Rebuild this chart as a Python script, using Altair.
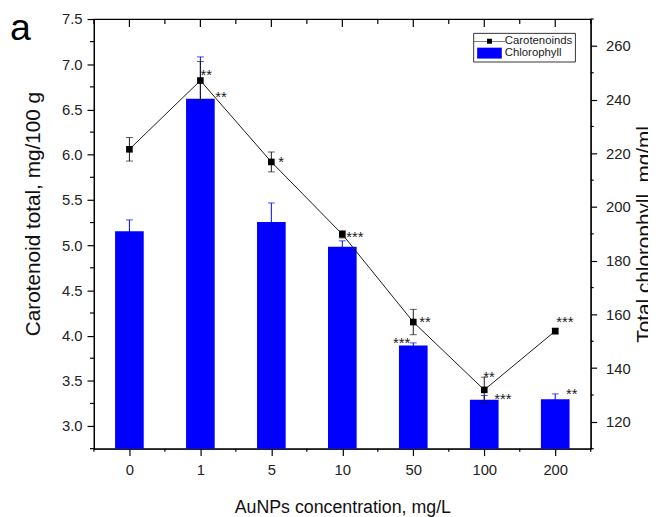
import altair as alt
import pandas as pd

# ---------------- data ----------------
categories = ["0", "1", "5", "10", "50", "100", "200"]
carotenoids = [6.06, 6.82, 5.92, 5.12, 4.15, 3.40, 4.05]
carotenoids_err = [0.13, 0.21, 0.11, 0.04, 0.14, 0.14, 0.03]
chlorophyll = [191.0, 240.3, 194.4, 185.2, 148.4, 128.2, 128.4]
chlorophyll_err = [4.2, 15.6, 7.1, 2.2, 1.0, 1.6, 2.0]
series_names = ["Carotenoinds", "Chlorophyll"]

# significance labels (category, text)
car_sig = [("1", "**"), ("5", "*"), ("10", "***"), ("50", "**"), ("100", "**"), ("200", "***")]
chl_sig = [("1", "**"), ("50", "***"), ("100", "***"), ("200", "**")]

left_domain = [2.75, 7.5]
right_domain = [110, 270]
left_major = [3.0, 3.5, 4.0, 4.5, 5.0, 5.5, 6.0, 6.5, 7.0, 7.5]
left_minor = [2.75, 3.25, 3.75, 4.25, 4.75, 5.25, 5.75, 6.25, 6.75, 7.25]
right_major = [120, 140, 160, 180, 200, 220, 240, 260]
right_minor = [110, 130, 150, 170, 190, 210, 230, 250, 270]
panel_letter = "a"

# label placement style: dx, dy, align
car_sig_style = {"1": (0, -1, "left"), "5": (7, 5, "left"), "10": (4, 8, "left"),
                 "50": (6, 5, "left"), "100": (-1, -8, "left"), "200": (1, -4, "left")}
chl_sig_style = {"1": (15, 3, "left"), "50": (-3, 2, "right"),
                 "100": (10, 4, "left"), "200": (11, 0, "left")}

FONT = "Liberation Sans"
TXT = "#1a1a1a"
W, H = 503, 435
n = len(categories)
df = pd.DataFrame({
    "idx": list(range(n)),
    "cat": categories,
    "car": carotenoids,
    "car_err": carotenoids_err,
    "chl": chlorophyll,
    "chl_err": chlorophyll_err,
})
df["car_lo"] = df["car"] - df["car_err"]
df["car_hi"] = df["car"] + df["car_err"]
df["chl_lo"] = df["chl"] - df["chl_err"]
df["chl_hi"] = df["chl"] + df["chl_err"]
df["chl_base"] = right_domain[0]

x_major = list(range(n))
x_minor = [i - 0.5 for i in range(n + 1)]
label_js = "[" + ",".join("'" + c + "'" for c in categories) + "]"
xs = alt.Scale(domain=[-0.5, n - 0.5], nice=False, zero=False, padding=0)
ys_left = alt.Scale(domain=left_domain, nice=False, zero=False, padding=0)
ys_right = alt.Scale(domain=right_domain, nice=False, zero=False, padding=0)

bottom_axis = alt.Axis(
    orient="bottom", values=x_major,
    labelExpr=label_js + "[datum.value]",
    tickSize=7, labelPadding=7,
    title="AuNPs concentration, mg/L", titlePadding=22, titleFontSize=18,
)
left_axis = alt.Axis(
    orient="left", values=left_major, format=".1f",
    tickSize=7, labelPadding=5,
    title="Carotenoid total, mg/100 g", titlePadding=18, titleFontSize=21, titleY=197,
)
right_axis = alt.Axis(
    orient="right", values=right_major,
    tickSize=6, labelPadding=9,
    title="Total chlorophyll, mg/ml", titlePadding=4, titleFontSize=21,
    titleAngle=270, titleBaseline="top",
)

base = alt.Chart(df)


def X(field="idx", axis=None):
    if axis is None:
        return alt.X(field + ":Q", scale=xs)
    return alt.X(field + ":Q", scale=xs, axis=axis)


def YL(field, axis=None):
    if axis is None:
        return alt.Y(field + ":Q", scale=ys_left)
    return alt.Y(field + ":Q", scale=ys_left, axis=axis)


def YR(field, axis=None):
    if axis is None:
        return alt.Y(field + ":Q", scale=ys_right)
    return alt.Y(field + ":Q", scale=ys_right, axis=axis)


TICK = "#000000"

# ---- chlorophyll (right axis) ----
bars = base.mark_bar(color="#0000ff", size=29).encode(
    x=X(axis=bottom_axis), y=YR("chl", right_axis), y2="chl_base:Q")
chl_rule = base.mark_rule(color="#0000ff", strokeWidth=1).encode(
    x=X(), y=YR("chl_lo"), y2="chl_hi:Q")
chl_cap = base.mark_tick(color="#0000ff", orient="horizontal", size=7, thickness=1).encode(
    x=X(), y=YR("chl_hi"))
right_minor_ticks = alt.Chart(pd.DataFrame({"v": right_minor})).mark_rule(
    color=TICK, strokeWidth=1.2).encode(
    y=YR("v"), x=alt.value(W), x2=alt.value(W + 3))

chl_layers = [bars, chl_rule, chl_cap, right_minor_ticks]
for cat, txt in chl_sig:
    dx, dy, al = chl_sig_style[cat]
    i = categories.index(cat)
    d = pd.DataFrame({"idx": [i], "chl": [chlorophyll[i]], "t": [txt]})
    chl_layers.append(
        alt.Chart(d).mark_text(font=FONT, fontSize=15, fill=TXT, dx=dx, dy=dy,
                               align=al, baseline="alphabetic").encode(
            x=X(), y=YR("chl"), text="t:N"))
chl_layer = alt.layer(*chl_layers)

# ---- carotenoids (left axis) ----
line = base.mark_line(color=TXT, strokeWidth=1).encode(
    x=X(), y=YL("car", left_axis))
car_rule = base.mark_rule(color=TXT, strokeWidth=1).encode(
    x=X(), y=YL("car_lo"), y2="car_hi:Q")
car_cap_hi = base.mark_tick(color=TXT, orient="horizontal", size=7, thickness=1).encode(
    x=X(), y=YL("car_hi"))
car_cap_lo = base.mark_tick(color=TXT, orient="horizontal", size=7, thickness=1).encode(
    x=X(), y=YL("car_lo"))
points = base.mark_point(shape="square", filled=True, size=45, color="#000000", opacity=1).encode(
    x=X(), y=YL("car"))
left_minor_ticks = alt.Chart(pd.DataFrame({"v": left_minor})).mark_rule(
    color=TICK, strokeWidth=1.2).encode(
    y=YL("v"), x=alt.value(-4), x2=alt.value(0))

# x minor ticks (bottom, outward) and top ticks (inward)
bottom_minor_ticks = alt.Chart(pd.DataFrame({"idx": x_minor})).mark_rule(
    color=TICK, strokeWidth=1.2).encode(
    x=X(), y=alt.value(H), y2=alt.value(H + 3))
top_major_ticks = alt.Chart(pd.DataFrame({"idx": x_major})).mark_rule(
    color=TICK, strokeWidth=1.2).encode(
    x=X(), y=alt.value(0), y2=alt.value(8))
top_minor_ticks = alt.Chart(pd.DataFrame({"idx": x_minor})).mark_rule(
    color=TICK, strokeWidth=1.2).encode(
    x=X(), y=alt.value(0), y2=alt.value(5))

car_layers = [line, car_rule, car_cap_hi, car_cap_lo, points,
              left_minor_ticks, bottom_minor_ticks, top_major_ticks, top_minor_ticks]
for cat, txt in car_sig:
    dx, dy, al = car_sig_style[cat]
    i = categories.index(cat)
    d = pd.DataFrame({"idx": [i], "car": [carotenoids[i]], "t": [txt]})
    car_layers.append(
        alt.Chart(d).mark_text(font=FONT, fontSize=15, fill=TXT, dx=dx, dy=dy,
                               align=al, baseline="alphabetic").encode(
            x=X(), y=YL("car"), text="t:N"))

# panel letter
letter = alt.Chart(pd.DataFrame({"t": [panel_letter]})).mark_text(
    font=FONT, fontSize=38, color="#000000", align="left", baseline="alphabetic").encode(
    x=alt.value(-85), y=alt.value(21), text="t:N")
car_layers.append(letter)

# legend (library legend with custom symbols)
line_sym = "M-2.4,-0.05H2.4V0.05H-2.4Z M-0.38,-0.38H0.38V0.38H-0.38Z"
rect_sym = "M-1.92,-0.85H1.92V0.85H-1.92Z"
legend_df = pd.DataFrame({"series": series_names})
legend_layer = alt.Chart(legend_df).mark_point(filled=True, size=0, opacity=1).encode(
    x=alt.value(0), y=alt.value(0),
    color=alt.Color("series:N", scale=alt.Scale(domain=series_names, range=["#000000", "#0000ff"]),
                    legend=alt.Legend(orient="none", legendX=384, legendY=14, title=None,
                                      strokeColor="#333333", fillColor="white", padding=2,
                                      symbolSize=169, symbolOpacity=1, symbolStrokeWidth=0,
                                      symbolOffset=8, labelOffset=9, rowPadding=0,
                                      labelFont=FONT, labelFontSize=11.5, labelColor=TXT)),
    shape=alt.Shape("series:N", scale=alt.Scale(domain=series_names, range=[line_sym, rect_sym]),
                    legend=alt.Legend(orient="none", legendX=384, legendY=14, title=None)),
)
car_layers.append(legend_layer)
car_layer = alt.layer(*car_layers)

chart = alt.layer(chl_layer, car_layer).resolve_scale(y="independent").properties(
    width=W, height=H,
    autosize=alt.AutoSizeParams(type="none"),
    padding={"left": 87, "top": 8, "right": 58, "bottom": 66},
).configure_view(stroke="#000000", strokeWidth=1.2).configure_axis(
    labelFont=FONT, labelFontSize=15, labelColor="#222222",
    titleFont=FONT, titleFontWeight="normal", titleColor="#111111",
    domainColor="#000000", tickColor="#000000", domainWidth=1.2, tickWidth=1.2, grid=False,
)

chart.save("out.html", embed_options={"renderer": "svg", "actions": False})
